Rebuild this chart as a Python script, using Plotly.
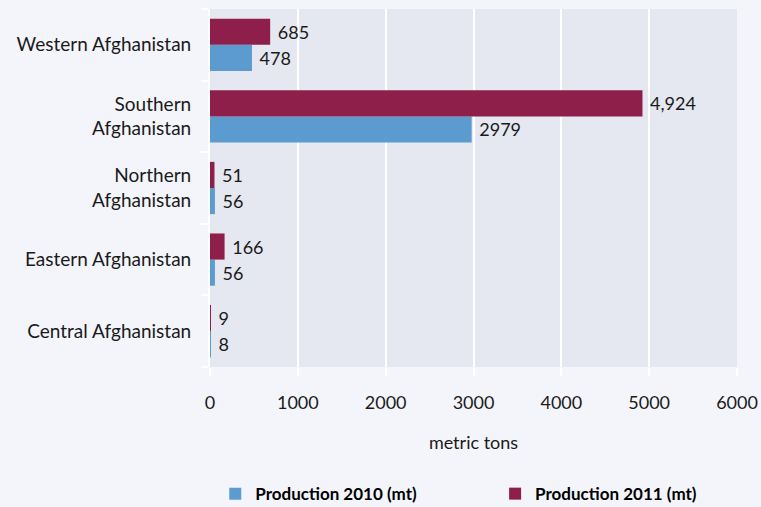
import plotly.graph_objects as go

regions = ["Central Afghanistan", "Eastern Afghanistan", "Northern<br>Afghanistan",
           "Southern<br>Afghanistan", "Western Afghanistan"]
prod_2010 = [8, 56, 56, 2979, 478]
prod_2011 = [9, 166, 51, 4924, 685]
labels_2010 = ["8", "56", "56", "2979", "478"]
labels_2011 = ["9", "166", "51", "4,924", "685"]
x_ticks = [0, 1000, 2000, 3000, 4000, 5000, 6000]

FONT = "Lato"
TXT = "#1a1a1a"

fig = go.Figure()
fig.add_trace(go.Bar(
    y=regions, x=prod_2010, orientation="h", name="Production 2010 (mt)",
    marker=dict(color="#5B9BD0", line=dict(width=0)),
    text=labels_2010, texttemplate="\u00a0%{text}", textposition="outside", cliponaxis=False,
    constraintext="none", textfont=dict(family=FONT, size=18, color=TXT),
    legend="legend",
))
fig.add_trace(go.Bar(
    y=regions, x=prod_2011, orientation="h", name="Production 2011 (mt)",
    marker=dict(color="#8E1F4A", line=dict(width=0)),
    text=labels_2011, texttemplate="\u00a0%{text}", textposition="outside", cliponaxis=False,
    constraintext="none", textfont=dict(family=FONT, size=18, color=TXT),
    legend="legend2",
))

leg_font = dict(family=FONT, size=17, color="#000", weight="bold")
fig.update_layout(
    width=761, height=507,
    margin=dict(l=210, r=24, t=9, b=140, autoexpand=False),
    paper_bgcolor="#F4F5FA", plot_bgcolor="#E5E8F0",
    barmode="group", bargap=0.27, bargroupgap=0,
    font=dict(family=FONT, size=18, color=TXT),
    showlegend=True,
    legend=dict(orientation="h", x=0.01, y=-0.355, xanchor="left", yanchor="middle",
                font=leg_font, bgcolor="rgba(0,0,0,0)"),
    legend2=dict(orientation="h", x=0.541, y=-0.355, xanchor="left", yanchor="middle",
                 font=leg_font, bgcolor="rgba(0,0,0,0)"),
    xaxis=dict(range=[0, 6000], tickvals=x_ticks, ticktext=[str(v) for v in x_ticks],
               showgrid=True, gridcolor="white", gridwidth=2,
               zeroline=False, showline=False,
               ticks="outside", ticklen=8, tickwidth=2, tickcolor="white",
               ticklabelstandoff=11,
               tickfont=dict(family=FONT, size=18, color=TXT),
               title=dict(text="metric tons", font=dict(family=FONT, size=18, color=TXT), standoff=24)),
    yaxis=dict(categoryorder="array", categoryarray=regions,
               tickson="boundaries", ticks="outside", ticklen=7, tickwidth=2, tickcolor="white",
               showline=True, linecolor="white", linewidth=2,
               showgrid=False, ticklabelstandoff=13,
               tickfont=dict(family=FONT, size=19, color=TXT)),
)

fig.write_html("out.html", config={"displayModeBar": False},
               post_script="document.body.style.margin='0';document.body.style.background='#F4F5FA';")
